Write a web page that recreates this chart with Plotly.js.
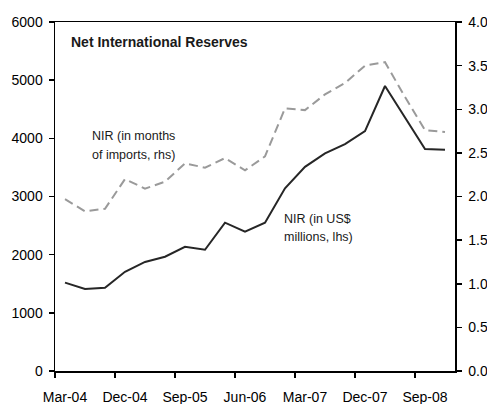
<!DOCTYPE html>
<html>
<head>
<meta charset="utf-8">
<script src="https://cdn.plot.ly/plotly-3.0.1.min.js"></script>
<style>html,body{margin:0;padding:0;background:#fff;}#chart{width:487px;height:404px;}</style>
</head>
<body>
<div id="chart"></div>
<script>
var quarters = ["Mar-04","Jun-04","Sep-04","Dec-04","Mar-05","Jun-05","Sep-05","Dec-05",
                "Mar-06","Jun-06","Sep-06","Dec-06","Mar-07","Jun-07","Sep-07","Dec-07",
                "Mar-08","Jun-08","Sep-08","Dec-08"];
var nirUSD = [1520,1410,1430,1705,1875,1965,2135,2085,2550,2395,2550,3140,3510,3740,3900,4125,4900,4360,3815,3805];
var nirMonths = [1.97,1.83,1.86,2.20,2.09,2.17,2.38,2.33,2.44,2.30,2.46,3.01,2.99,3.17,3.30,3.50,3.54,3.14,2.76,2.74];
var chartTitle = "Net International Reserves";
var labelMonths = ["NIR (in months", "of imports, rhs)"];
var labelUSD = ["NIR (in US$", "millions, lhs)"];

var font = {family: "Liberation Sans, Arial, sans-serif", size: 14, color: "#000"};

var traces = [
  {x: quarters, y: nirUSD, type: "scatter", mode: "lines", yaxis: "y",
   line: {color: "#262626", width: 2}, hoverinfo: "skip"},
  {x: quarters, y: nirMonths, type: "scatter", mode: "lines", yaxis: "y2",
   line: {color: "#9a9a9a", width: 2, dash: "9px,5px"}, hoverinfo: "skip"}
];

function ann(text, x, y, size, bold) {
  return {text: bold ? "<b>" + text + "</b>" : text, xref: "paper", yref: "paper",
          x: x, y: y, xanchor: "left", yanchor: "middle", showarrow: false,
          font: {family: font.family, size: size, color: "#1a1a1a"}};
}
// plot area: x 55..455, y 22..371
function px(xp){ return (xp - 55) / 400; }
function py(yp){ return (371 - yp) / 349; }

var layout = {
  width: 487, height: 404,
  margin: {l: 55, r: 32, t: 22, b: 33},
  paper_bgcolor: "#fff", plot_bgcolor: "#fff",
  showlegend: false,
  font: font,
  xaxis: {type: "category", tickmode: "linear", tick0: 0, dtick: 3, tickangle: 0,
          tickson: "boundaries", ticks: "outside", ticklen: 5, tickwidth: 1.5, tickcolor: "#000",
          showline: true, linecolor: "#000", linewidth: 1.5, mirror: true,
          showgrid: false, zeroline: false, range: [-0.5, 19.5], automargin: false,
          ticklabelstandoff: 13, tickfont: font},
  yaxis: {range: [0, 6000], dtick: 1000, ticks: "outside", ticklen: 5, tickwidth: 1.5,
          tickcolor: "#000", showline: true, linecolor: "#000", linewidth: 1.5,
          showgrid: false, zeroline: false, tickfont: font, ticklabelstandoff: 3},
  yaxis2: {range: [0, 4], dtick: 0.5, tickformat: ".1f", overlaying: "y", side: "right",
           ticks: "outside", ticklen: 5, tickwidth: 1.5, tickcolor: "#000",
           showline: true, linecolor: "#000", linewidth: 1.5,
           showgrid: false, zeroline: false, tickfont: font, ticklabelstandoff: 4},
  annotations: [
    ann(chartTitle, px(69), py(42), 14, true),
    ann(labelMonths[0], px(90), py(136), 12.5, false),
    ann(labelMonths[1], px(90), py(155), 12.5, false),
    ann(labelUSD[0], px(282), py(219), 12.5, false),
    ann(labelUSD[1], px(282), py(237), 12.5, false)
  ]
};

Plotly.newPlot("chart", traces, layout, {staticPlot: true});
</script>
</body>
</html>
